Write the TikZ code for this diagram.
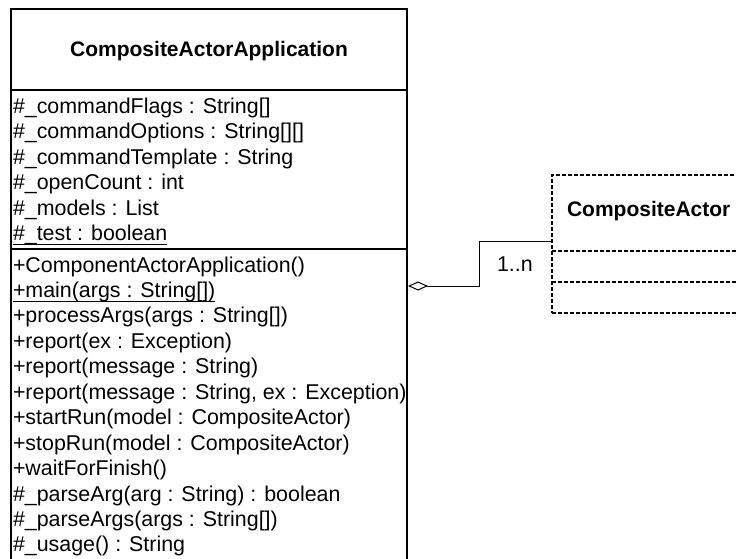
\documentclass[tikz,border=0pt]{standalone}
\usepackage{fontspec}
\setmainfont{Liberation Sans}
\usetikzlibrary{arrows.meta}
\newcommand\myul[1]{\setbox0=\hbox{#1}\rlap{\rule[-4.5pt]{\wd0}{1.3pt}}\box0}
\begin{document}
\begin{tikzpicture}[x=1pt,y=-1pt,
  txt/.style={anchor=base west, inner sep=0pt, outer sep=0pt, font=\fontsize{21.4pt}{25pt}\selectfont},
  ttl/.style={inner sep=0pt, outer sep=0pt, font=\fontsize{21pt}{25pt}\selectfont\bfseries},
  solidbox/.style={draw, line width=2pt, inner sep=0pt, outer sep=0pt, anchor=north west},
  solidsep/.style={line width=2pt},
  dashbox/.style={draw, line width=1.3pt, dash pattern=on 4pt off 2pt, inner sep=0pt, outer sep=0pt, anchor=north west},
  dashsep/.style={line width=1.3pt, dash pattern=on 4pt off 2pt},
  conn/.style={line width=1pt},
]
\useasboundingbox (0,0) rectangle (736,559);
\clip (0,0) rectangle (736,559);
% main class box
\node[solidbox, minimum width=396pt, minimum height=600pt] (app) at (11,9) {};
\coordinate (s1) at (0,90.5);
\coordinate (s2) at (0,249);
\draw[solidsep] (app.west |- s1) -- (app.east |- s1);
\draw[solidsep] (app.west |- s2) -- (app.east |- s2);
\node[ttl, anchor=base] (apptitle) at (209,57) {CompositeActorApplication};
% attributes
\node[txt] (a1) at (13,113.5) {\#\_commandFlags : String[]};
\node[txt] (a2) at (13,138.95) {\#\_commandOptions : String[][]};
\node[txt] (a3) at (13,164.4) {\#\_commandTemplate : String};
\node[txt] (a4) at (13,189.85) {\#\_openCount : int};
\node[txt] (a5) at (13,215.3) {\#\_models : List};
\node[txt] (a6) at (13,240.75) {\myul{\#\_test : boolean}};
% methods
\node[txt] (m1) at (13,272) {+ComponentActorApplication()};
\node[txt] (m2) at (13,297.45) {\myul{+main(args : String[])}};
\node[txt] (m3) at (13,322.9) {+processArgs(args : String[])};
\node[txt] (m4) at (13,348.35) {+report(ex : Exception)};
\node[txt] (m5) at (13,373.8) {+report(message : String)};
\node[txt] (m6) at (13,399.25) {+report(message : String, ex : Exception)};
\node[txt] (m7) at (13,424.7) {+startRun(model : CompositeActor)};
\node[txt] (m8) at (13,450.15) {+stopRun(model : CompositeActor)};
\node[txt] (m9) at (13,475.6) {+waitForFinish()};
\node[txt] (m10) at (13,501.05) {\#\_parseArg(arg : String) : boolean};
\node[txt] (m11) at (13,526.5) {\#\_parseArgs(args : String[])};
\node[txt] (m12) at (13,551.95) {\#\_usage() : String};
% CompositeActor box
\node[dashbox, minimum width=250pt, minimum height=138pt] (ca) at (552,175) {};
\coordinate (s3) at (0,251);
\coordinate (s4) at (0,282);
\draw[dashsep] (ca.west |- s3) -- (ca.east |- s3);
\draw[dashsep] (ca.west |- s4) -- (ca.east |- s4);
\node[ttl, anchor=base west] (catitle) at (567,216) {CompositeActor};
% aggregation connector
\coordinate (d) at (0,286);
\coordinate (c) at (0,241);
\coordinate (bend) at (479,286);
\draw[conn, {Diamond[open, length=20pt, width=9pt, line width=1pt]}-] ([xshift=1pt]app.east |- d) -- (bend) |- (ca.west |- c);
\node[txt] (mult) at (497,271.5) {1..n};
\end{tikzpicture}
\end{document}
